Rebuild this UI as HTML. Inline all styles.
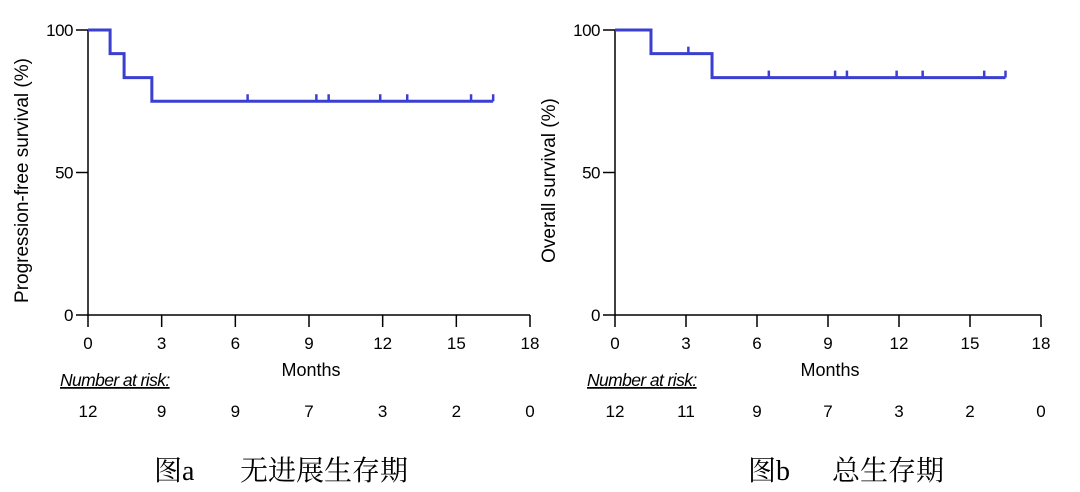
<!DOCTYPE html>
<html><head><meta charset="utf-8"><style>
body{margin:0;background:#fff;width:1080px;height:492px;overflow:hidden}
svg{display:block;font-family:"Liberation Sans",Arial,sans-serif}
</style></head><body>
<svg id="s" width="1080" height="492"></svg>
<script>
const xTicks=[0,3,6,9,12,15,18];
const yTicks=[0,50,100];
const pfsTimes=[0,0.9,1.47,2.6,16.5];
const pfsValues=[100,91.7,83.3,75,75];
const pfsCensor=[6.5,9.3,9.8,11.9,13,15.6,16.5];
const osTimes=[0,1.52,4.1,16.5];
const osValues=[100,91.7,83.3,83.3];
const osCensor=[3.1,6.5,9.3,9.8,11.9,13,15.6,16.5];
const pfsRisk=[12,9,9,7,3,2,0];
const osRisk=[12,11,9,7,3,2,0];
const NS="http://www.w3.org/2000/svg";
const svg=document.getElementById('s');
function el(t,a,p,txt){const e=document.createElementNS(NS,t);for(const k in a)e.setAttribute(k,a[k]);if(txt!==undefined)e.textContent=txt;(p||svg).appendChild(e);return e;}
function panel(id,x0,x1,yLabel,times,vals,cens,risk,cap1,cap1X,cap2,cap2X){
 const g=el('g',{});
 
 
 const y0=315,y1=30;
 const X=v=>x0+(x1-x0)*v/18, Y=v=>y0-(y0-y1)*v/100;
 const ax=el('path',{d:`M${x0},${y1}V${y0}H${x1}`,stroke:'#000','stroke-width':1.5,fill:'none'},g);
 
 
 yTicks.forEach(t=>{el('line',{x1:x0-12,x2:x0,y1:Y(t),y2:Y(t),stroke:'#000','stroke-width':1.5},g);
  const l=el('text',{x:x0-15,y:Y(t)+6,'text-anchor':'end','font-size':17,'letter-spacing':-0.5},g,t);
  
  });
 xTicks.forEach(t=>{el('line',{x1:X(t),x2:X(t),y1:y0,y2:y0+12,stroke:'#000','stroke-width':1.5},g);
  const l=el('text',{x:X(t),y:y0+34,'text-anchor':'middle','font-size':17},g,t);
  
  });
 const yl=el('text',{x:0,y:0,transform:`translate(${x0-60},${(y0+y1)/2+8}) rotate(-90)`,'text-anchor':'middle','font-size':19},g,yLabel);
 
 
 const xl=el('text',{x:X(9)+2,y:376,'text-anchor':'middle','font-size':18},g,'Months');
 
 
 let d=`M${X(times[0])},${Y(vals[0])}`;
 for(let i=1;i<times.length;i++){d+=`H${X(times[i])}V${Y(vals[i])}`;}
 const c=el('path',{d:d,stroke:'#3a3fd0','stroke-width':3,fill:'none'},g);
 
 
 function valAt(t){let v=vals[0];for(let i=0;i<times.length;i++)if(times[i]<=t)v=vals[i];return v;}
 cens.forEach(t=>{const m=el('line',{x1:X(t),x2:X(t),y1:Y(valAt(t)),y2:Y(valAt(t))-7,stroke:'#3a3fd0','stroke-width':2.5},g);
  
  });
 const nr=el('text',{x:x0-28,y:386,'font-size':17.5,'font-style':'italic','text-decoration':'underline','letter-spacing':-0.6},g,'Number at risk:');
 
 
 risk.forEach((r,i)=>{const l=el('text',{x:X(xTicks[i]),y:417,'text-anchor':'middle','font-size':17},g,r);
  
  });
 const f='"Liberation Serif","Noto Serif CJK SC",serif';
 const c1=el('text',{x:cap1X,y:480,'font-size':28,'font-family':f},g,cap1);
 
 
 const c2=el('text',{x:cap2X,y:480,'font-size':28,'font-family':f},g,cap2);
 
 
}
panel('pfs',88,530,'Progression-free survival (%)',pfsTimes,pfsValues,pfsCensor,pfsRisk,'图a',154,'无进展生存期',240);
panel('os',615,1041,'Overall survival (%)',osTimes,osValues,osCensor,osRisk,'图b',748,'总生存期',832);
</script>
</body></html>
